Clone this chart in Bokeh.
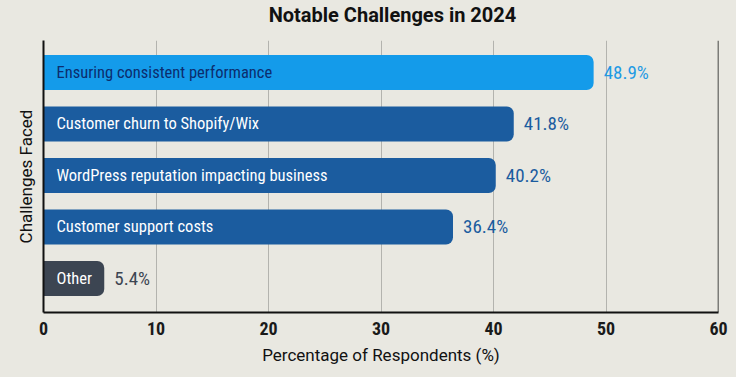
from bokeh.plotting import figure
from bokeh.layouts import column
from bokeh.models import Range1d, FixedTicker, Span, ColumnDataSource
from bokeh.core.properties import value
from bokeh.embed import file_html
from bokeh.resources import INLINE

categories = [
    "Ensuring consistent performance",
    "Customer churn to Shopify/Wix",
    "WordPress reputation impacting business",
    "Customer support costs",
    "Other",
]
percentages = [48.9, 41.8, 40.2, 36.4, 5.4]
x_ticks = [0, 10, 20, 30, 40, 50, 60]
title_text = ["Notable Challenges in 2024"]

bar_colors = ["#149bea", "#1b5c9f", "#1b5c9f", "#1b5c9f", "#3c4552"]
name_colors = ["#0c2d6e", "#ffffff", "#ffffff", "#ffffff", "#ffffff"]
value_colors = ["#1f9ae4", "#1b5c9f", "#1b5c9f", "#1b5c9f", "#3c4552"]

COND = "Roboto Condensed"
BG = "#e9e8e1"

n = len(categories)
src = ColumnDataSource(dict(
    y=[n - 1 - i for i in range(n)],
    pct=percentages,
    name=categories,
    label=[f"{v}%" for v in percentages],
    bar_color=bar_colors,
    name_color=name_colors,
    value_color=value_colors,
))

W = 736
TITLE_H = 40
ML, MR, MB = 43, 18, 65

# ---- title strip ----
t = figure(width=W, height=TITLE_H, x_range=Range1d(0, W), y_range=Range1d(0, TITLE_H),
           output_backend="svg", toolbar_location=None,
           background_fill_color=BG, border_fill_color=BG, min_border=0)
t.axis.visible = False
t.grid.visible = False
t.outline_line_color = None
t.title.visible = False
t.text(x=[ML + (W - ML - MR) / 2], y=[TITLE_H - 14], text=title_text,
       text_align="center", text_baseline="middle",
       text_font=value("Roboto"), text_font_style="bold", text_font_size="20px",
       text_color="#111111")

# ---- main chart ----
p = figure(width=W, height=377 - TITLE_H,
           x_range=Range1d(0, 60), y_range=Range1d(-0.66, 4.62),
           output_backend="svg", toolbar_location=None,
           background_fill_color=BG, border_fill_color=BG,
           min_border_left=ML, min_border_right=MR,
           min_border_top=0, min_border_bottom=MB)
p.outline_line_color = None
p.title.visible = False

p.ygrid.visible = False
p.xgrid.ticker = FixedTicker(ticks=x_ticks)
p.xgrid.grid_line_color = "#b3b3ae"
p.xgrid.grid_line_width = 1

xa = p.xaxis[0]
xa.ticker = FixedTicker(ticks=x_ticks)
xa.major_tick_line_color = None
xa.minor_tick_line_color = None
xa.axis_line_width = 2
xa.axis_line_color = "#111111"
xa.major_label_text_font = COND
xa.major_label_text_font_style = "bold"
xa.major_label_text_font_size = "18px"
xa.major_label_text_color = "#1a1a1a"
xa.major_label_standoff = 3
xa.axis_label = "Percentage of Respondents (%)"
xa.axis_label_text_font = "Roboto"
xa.axis_label_text_font_style = "normal"
xa.axis_label_text_font_size = "17px"
xa.axis_label_text_color = "#111111"
xa.axis_label_standoff = 7

ya = p.yaxis[0]
ya.ticker = FixedTicker(ticks=[])
ya.major_tick_line_color = None
ya.minor_tick_line_color = None
ya.major_label_text_font_size = "0px"
ya.major_label_standoff = 0
ya.axis_line_width = 2
ya.axis_line_color = "#111111"
ya.axis_label = "Challenges Faced"
ya.axis_label_text_font = "Roboto"
ya.axis_label_text_font_style = "normal"
ya.axis_label_text_font_size = "17px"
ya.axis_label_text_color = "#111111"
ya.axis_label_standoff = 8

p.add_layout(Span(location=60, dimension="height", line_color="#111111", line_width=1.5))

p.hbar(y="y", left=0, right="pct", height=0.68, source=src,
       fill_color="bar_color", line_color=None, border_radius=(0, 7, 7, 0))

p.text(x=0, y="y", text="name", source=src, x_offset=13,
       text_baseline="middle", text_align="left", text_color="name_color",
       text_font=value(COND), text_font_size="16.5px")

p.text(x="pct", y="y", text="label", source=src, x_offset=10,
       text_baseline="middle", text_align="left", text_color="value_color",
       text_font=value(COND), text_font_size="19px")

layout = column(t, p, spacing=0, styles={"background-color": BG})
open("out.html", "w").write(file_html(layout, INLINE))
